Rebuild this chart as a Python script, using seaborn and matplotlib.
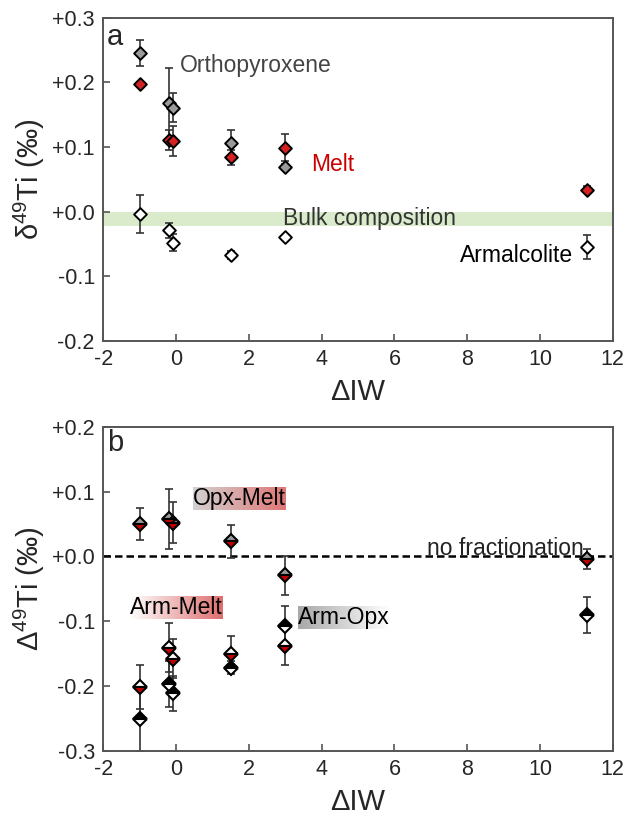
import numpy as np
import matplotlib
matplotlib.use("Agg")
import matplotlib.pyplot as plt
import seaborn as sns
import pandas as pd
from matplotlib.colors import LinearSegmentedColormap

# ---------------- data ----------------
dIW = [-1.0, -0.2, -0.07, 1.5, 3.0, 11.3]

# panel a: delta49Ti
opx_x = [-1.0, -0.2, -0.07, 1.5, 3.0]
opx_y = [0.246, 0.168, 0.161, 0.106, 0.069]
opx_e = [0.020, 0.054, 0.022, 0.020, 0.004]

melt_y = [0.197, 0.111, 0.109, 0.084, 0.099, 0.034]
melt_e = [0.004, 0.015, 0.023, 0.012, 0.021, 0.006]

arm_y = [-0.004, -0.029, -0.048, -0.067, -0.040, -0.055]
arm_e = [0.029, 0.012, 0.013, 0.006, 0.004, 0.019]

bulk_lo, bulk_hi = -0.023, 0.0

# panel b: Delta49Ti
opxmelt_y = [0.050, 0.058, 0.052, 0.023, -0.029, -0.004]
opxmelt_e = [0.025, 0.046, 0.032, 0.026, 0.030, 0.016]

armmelt_x = [-1.0, -0.2, -0.07, 1.5, 3.0]
armmelt_y = [-0.201, -0.141, -0.158, -0.150, -0.139]
armmelt_e = [0.034, 0.038, 0.030, 0.027, 0.029]

armopx_y = [-0.251, -0.197, -0.211, -0.172, -0.107, -0.090]
armopx_e = [0.050, 0.036, 0.027, 0.010, 0.031, 0.028]

xticks = [-2, 0, 2, 4, 6, 8, 10, 12]
yticks_a = [-0.2, -0.1, 0.0, 0.1, 0.2, 0.3]
yticks_b = [-0.3, -0.2, -0.1, 0.0, 0.1, 0.2]

# ---------------- style ----------------
sns.set_style("white")
plt.rcParams['font.family'] = ['Liberation Sans', 'DejaVu Sans']
plt.rcParams['mathtext.fontset'] = 'custom'
plt.rcParams['mathtext.rm'] = 'Liberation Sans'
plt.rcParams['mathtext.it'] = 'Liberation Sans:italic'

RED = '#d42222'
GRAY = '#9a9a9a'
ECOL = '#333333'
SPINE = '#555555'

fig = plt.figure(figsize=(6.41, 8.21), dpi=100)
ax1 = fig.add_axes([0.161, 0.585, 0.795, 0.3934])
ax2 = fig.add_axes([0.161, 0.0856, 0.795, 0.3946])

def fmt(v):
    return ('+%.1f' % v) if v >= 0 else ('%.1f' % v)

def style_axes(ax, yticks, ylim):
    ax.set_xlim(-2, 12)
    ax.set_ylim(*ylim)
    ax.set_xticks(xticks)
    ax.set_xticklabels([str(t) for t in xticks])
    ax.set_yticks(yticks)
    ax.set_yticklabels([fmt(t) for t in yticks])
    ax.tick_params(direction='in', length=5, width=1.2, color=SPINE,
                   labelsize=15.5, pad=6, left=True, bottom=True)
    for s in ax.spines.values():
        s.set_color(SPINE)
        s.set_linewidth(1.4)
    ax.set_xlabel('ΔIW', fontsize=21, labelpad=6)

# ---------------- panel a ----------------
ax1.axhspan(bulk_lo, bulk_hi, color='#d9ebcb', zorder=0, lw=0)
ebk = dict(fmt='none', ecolor=ECOL, elinewidth=1.2, capsize=2.8, capthick=1.2, zorder=2)
ax1.errorbar(opx_x, opx_y, yerr=opx_e, **ebk)
ax1.errorbar(dIW, melt_y, yerr=melt_e, **ebk)
ax1.errorbar(dIW, arm_y, yerr=arm_e, **ebk)

df_arm = pd.DataFrame({'x': dIW, 'y': arm_y})
df_opx = pd.DataFrame({'x': opx_x, 'y': opx_y})
df_melt = pd.DataFrame({'x': dIW, 'y': melt_y})
kw = dict(marker='D', s=42, edgecolor='black', linewidth=1.4, ax=ax1, zorder=3, legend=False)
sns.scatterplot(data=df_arm, x='x', y='y', color='white', **kw)
sns.scatterplot(data=df_opx, x='x', y='y', color=GRAY, **kw)
sns.scatterplot(data=df_melt, x='x', y='y', color=RED, **kw)

ax1.text(0.11, 0.226, 'Orthopyroxene', fontsize=16.5, color='#444444', va='center', ha='left')
ax1.text(3.71, 0.073, 'Melt', fontsize=16.5, color='#cc0000', va='center', ha='left')
ax1.text(2.95, -0.011, 'Bulk composition', fontsize=16.5, color='#333333', va='center', ha='left')
ax1.text(7.8, -0.068, 'Armalcolite', fontsize=16.5, color='black', va='center', ha='left')
ax1.text(-1.9, 0.270, 'a', fontsize=21, va='center', ha='left')
style_axes(ax1, yticks_a, (-0.2, 0.3))
ax1.set_ylabel(r'δ$^{49}$Ti (‰)', fontsize=21, labelpad=4)

# ---------------- panel b ----------------
ax2.axhline(0, color='black', lw=1.8, ls=(0, (3.0, 1.6)), zorder=1)
ax2.errorbar(dIW, opxmelt_y, yerr=opxmelt_e, **ebk)
ax2.errorbar(armmelt_x, armmelt_y, yerr=armmelt_e, **ebk)
ax2.errorbar(dIW, armopx_y, yerr=armopx_e, **ebk)

mk = dict(ls='none', marker='D', markersize=7.4, markeredgecolor='black',
          markeredgewidth=1.5, fillstyle='top', zorder=3)
ax2.plot(dIW, opxmelt_y, markerfacecolor=GRAY, markerfacecoloralt='#c00000', **mk)
ax2.plot(armmelt_x, armmelt_y, markerfacecolor='white', markerfacecoloralt='#c00000', **mk)
ax2.plot(dIW, armopx_y, markerfacecolor='black', markerfacecoloralt='white', **mk)

ax2.text(6.9, 0.002, 'no fractionation', fontsize=16.5, color='#222222', va='baseline', ha='left', zorder=4)
ax2.text(-1.9, 0.175, 'b', fontsize=21, va='center', ha='left')
style_axes(ax2, yticks_b, (-0.3, 0.2))
ax2.set_ylabel(r'Δ$^{49}$Ti (‰)', fontsize=21, labelpad=4)

fig.canvas.draw()

def gradient_label(ax, x, y, text, c0, c1):
    t = ax.text(x, y, text, fontsize=16.5, va='center', ha='left', zorder=6, color='black')
    fig.canvas.draw()
    bb = t.get_window_extent().transformed(ax.transData.inverted())
    grad = np.linspace(0, 1, 256).reshape(1, -1)
    cmap = LinearSegmentedColormap.from_list('g', [c0, c1])
    ax.imshow(grad, extent=[bb.x0, bb.x1, bb.y0, bb.y1], cmap=cmap,
              aspect='auto', zorder=5, interpolation='bilinear')

gradient_label(ax2, 0.475, 0.090, 'Opx-Melt', '#d2d2d2', '#e07676')
gradient_label(ax2, -1.26, -0.079, 'Arm-Melt', '#ffffff', '#dd6e6e')
gradient_label(ax2, 3.34, -0.094, 'Arm-Opx', '#a8a8a8', '#ffffff')
ax2.set_xlim(-2, 12)
ax2.set_ylim(-0.3, 0.2)

fig.savefig('out.png', dpi=100)
